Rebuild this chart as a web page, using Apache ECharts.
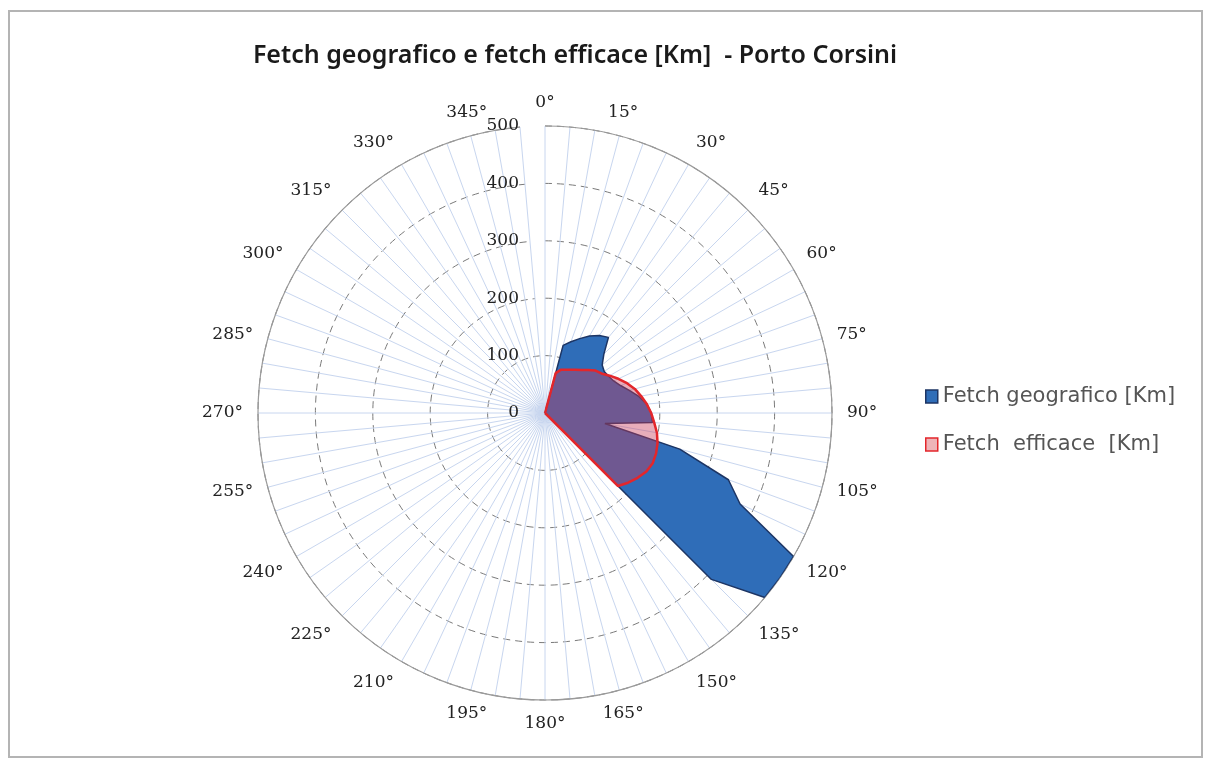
<!DOCTYPE html>
<html>
<head>
<meta charset="utf-8">
<title>Fetch Porto Corsini</title>
<script src="https://cdn.jsdelivr.net/npm/echarts@6/dist/echarts.min.js"></script>
<style>
html,body{margin:0;padding:0;background:#fff;}
#chart{width:1211px;height:763px;}
</style>
</head>
<body>
<div id="chart"></div>
<script>
// direzioni (ogni 5 gradi)
var directions = ['0°','5°','10°','15°','20°','25°','30°','35°','40°','45°','50°','55°',
	'60°','65°','70°','75°','80°','85°','90°','95°','100°','105°','110°','115°',
	'120°','125°','130°','135°','140°','145°','150°','155°','160°','165°','170°','175°',
	'180°','185°','190°','195°','200°','205°','210°','215°','220°','225°','230°','235°',
	'240°','245°','250°','255°','260°','265°','270°','275°','280°','285°','290°','295°',
	'300°','305°','310°','315°','320°','325°','330°','335°','340°','345°','350°','355°'];

// fetch geografico [Km]
var fetchGeografico = [0,0,0,122,132,143,155,165,172,145,130,126,
	128,132,140,152,166,178,185,188,106,243,340,375,
	500,500,500,410,0,0,0,0,0,0,0,0,
	0,0,0,0,0,0,0,0,0,0,0,0,
	0,0,0,0,0,0,0,0,0,0,0,0,
	0,0,0,0,0,0,0,0,0,0,0,0];

// fetch efficace [Km]
var fetchEfficace = [0,0,0,72,80,83,87,92,98,106,115,120,
	130,141,152,162,170,178,185,191,198,203,206,207,
	204,197,189,180,0,0,0,0,0,0,0,0,
	0,0,0,0,0,0,0,0,0,0,0,0,
	0,0,0,0,0,0,0,0,0,0,0,0,
	0,0,0,0,0,0,0,0,0,0,0,0];

var myChart = echarts.init(document.getElementById('chart'));

var option = {
	backgroundColor: '#fff',
	animation: false,
	title: {
		text: 'Fetch geografico e fetch efficace [Km]  - Porto Corsini',
		left: 570,
		top: 38,
		textAlign: 'center',
		textStyle: {fontFamily: 'Noto Sans', fontSize: 25, fontWeight: 600, color: '#1a1a1a'}
	},
	legend: {
		orient: 'vertical',
		left: 920,
		top: 381,
		itemWidth: 12,
		itemHeight: 13,
		itemGap: 27,
		icon: 'rect',
		textStyle: {fontFamily: 'DejaVu Sans', fontSize: 21, color: '#555'},
		data: [
			{name: 'Fetch geografico [Km]', itemStyle: {color: '#2f6db8', borderColor: '#1d3564', borderWidth: 1.5}},
			{name: 'Fetch  efficace  [Km]', itemStyle: {color: '#eeb4b8', borderColor: '#e3262b', borderWidth: 1.5}}
		]
	},
	polar: {
		center: [545, 413],
		radius: 287
	},
	angleAxis: {
		type: 'category',
		data: directions,
		boundaryGap: false,
		startAngle: 90,
		clockwise: true,
		axisLine: {show: true, lineStyle: {color: '#9a9a9a', width: 1.2}},
		axisTick: {show: false, interval: 0},
		axisLabel: {
			interval: 2,
			margin: 15,
			fontFamily: 'DejaVu Serif',
			fontSize: 17,
			color: '#222'
		},
		splitLine: {show: true, interval: 0, lineStyle: {color: '#c8d6ef', width: 1}}
	},
	radiusAxis: {
		min: 0,
		max: 500,
		interval: 100,
		axisLine: {show: false},
		axisTick: {show: false},
		axisLabel: {fontFamily: 'DejaVu Serif', fontSize: 17, color: '#222', margin: 26},
		splitLine: {show: true, lineStyle: {color: '#7a7a7a', type: [7, 5], width: 1}}
	},
	series: [
		{
			name: 'Fetch geografico [Km]',
			type: 'line',
			coordinateSystem: 'polar',
			data: fetchGeografico,
			showSymbol: false,
			symbol: 'none',
			itemStyle: {color: '#2f6db8'},
			lineStyle: {color: '#1d3564', width: 1.5},
			areaStyle: {color: '#2f6db8', opacity: 1},
			z: 3
		},
		{
			name: 'Fetch  efficace  [Km]',
			type: 'line',
			coordinateSystem: 'polar',
			data: fetchEfficace,
			showSymbol: false,
			symbol: 'none',
			itemStyle: {color: '#eeb4b8'},
			lineStyle: {color: '#e3262b', width: 2.5},
			areaStyle: {color: 'rgba(200,60,90,0.42)', opacity: 1},
			z: 4
		}
	],
	graphic: [{
		type: 'rect',
		shape: {x: 9, y: 11, width: 1193, height: 746},
		style: {fill: 'none', stroke: '#b4b4b4', lineWidth: 2},
		silent: true
	}]
};

myChart.setOption(option);
</script>
</body>
</html>
